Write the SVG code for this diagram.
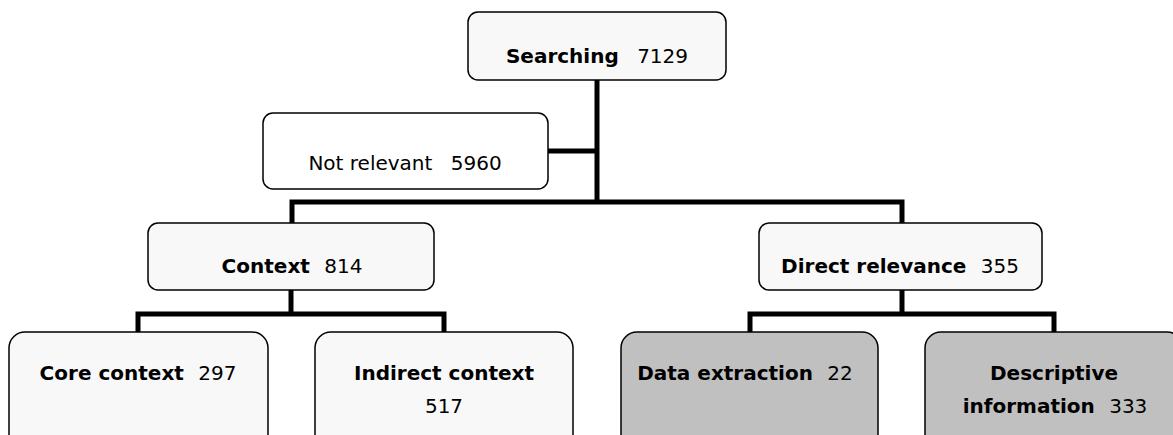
<svg xmlns="http://www.w3.org/2000/svg" width="1173" height="435" viewBox="0 0 1173 435">
<style>
.box{fill:#f8f8f8;stroke:#000;stroke-width:1.5}
.white{fill:#fff}
.gray{fill:#c0c0c0}
.conn{fill:none;stroke:#000;stroke-width:5;stroke-linejoin:miter;stroke-linecap:butt}
text{font-family:"DejaVu Sans",Verdana,sans-serif;font-size:20px;fill:#000;text-anchor:middle}
.b{font-weight:bold}
</style>
<rect width="1173" height="435" fill="#fff"/>
<g id="connectors">
<path class="conn" d="M597,80 V202"/>
<path class="conn" d="M548,151 H597"/>
<path class="conn" d="M292,223 V202 H902 V223"/>
<path class="conn" d="M291,290 V314"/>
<path class="conn" d="M138,332 V314 H444 V332"/>
<path class="conn" d="M902,290 V314"/>
<path class="conn" d="M750,332 V314 H1054 V332"/>
</g>
<g id="searching">
<rect class="box" x="468" y="12" width="258" height="68" rx="10"/>
<text x="597" y="63"><tspan class="b">Searching</tspan> <tspan dx="12">7129</tspan></text>
</g>
<g id="not-relevant">
<rect class="box white" x="263" y="113" width="285" height="76" rx="10"/>
<text x="405" y="170">Not relevant <tspan dx="12">5960</tspan></text>
</g>
<g id="context">
<rect class="box" x="148" y="223" width="286" height="67" rx="10"/>
<text x="292" y="273"><tspan class="b">Context</tspan> <tspan dx="8">814</tspan></text>
</g>
<g id="direct-relevance">
<rect class="box" x="759" y="223" width="283" height="67" rx="10"/>
<text x="900" y="273"><tspan class="b">Direct relevance</tspan> <tspan dx="8">355</tspan></text>
</g>
<g id="core-context">
<rect class="box" x="9" y="332" width="259" height="120" rx="16"/>
<text x="138" y="380"><tspan class="b">Core context</tspan> <tspan dx="8">297</tspan></text>
</g>
<g id="indirect-context">
<rect class="box" x="315" y="332" width="258" height="120" rx="16"/>
<text x="444" y="380" class="b">Indirect context</text>
<text x="444" y="413">517</text>
</g>
<g id="data-extraction">
<rect class="box gray" x="621" y="332" width="257" height="120" rx="16"/>
<text x="745" y="380"><tspan class="b">Data extraction</tspan> <tspan dx="8">22</tspan></text>
</g>
<g id="descriptive-information">
<rect class="box gray" x="925" y="332" width="258" height="120" rx="16"/>
<text x="1054" y="380" class="b">Descriptive</text>
<text x="1055" y="413"><tspan class="b">information</tspan> <tspan dx="8">333</tspan></text>
</g>
</svg>
